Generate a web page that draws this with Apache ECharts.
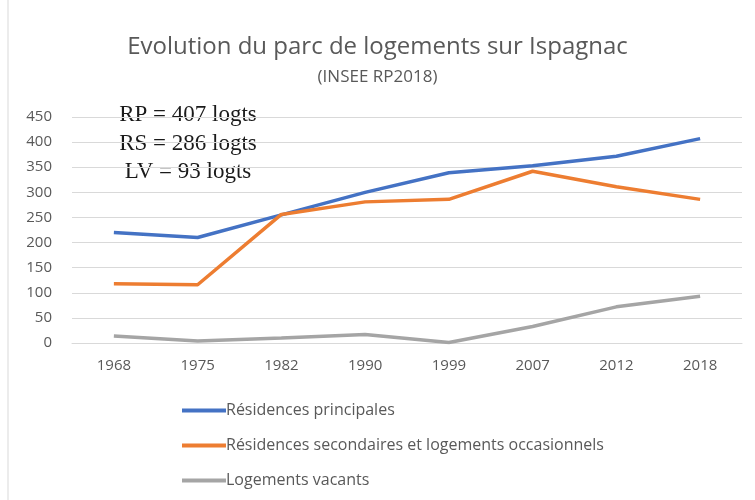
<!doctype html>
<html lang="fr">
<head>
    <meta charset="UTF-8">
    <title>Evolution du parc de logements sur Ispagnac</title>
    <script src="https://cdn.jsdelivr.net/npm/echarts@6/dist/echarts.min.js"></script>
    <style>
        html, body { margin: 0; padding: 0; background: #fff; }
    </style>
</head>
<body>
    <div id="main" style="width: 755px;height:500px;"></div>
    <script>
        var annees = ['1968', '1975', '1982', '1990', '1999', '2007', '2012', '2018'];
        var residencesPrincipales = [220, 210, 255, 300, 339, 353, 372, 407];
        var residencesSecondaires = [118, 116, 256, 281, 286, 342, 311, 286];
        var logementsVacants = [14, 4, 10, 17, 1, 33, 72, 93];
        var nomsSeries = ['Résidences principales', 'Résidences secondaires et logements occasionnels', 'Logements vacants'];
        var couleurs = ['#4472C4', '#ED7D31', '#A5A5A5'];
        var resume = ['RP = 407 logts', 'RS = 286 logts', 'LV = 93 logts'];

        var myChart = echarts.init(document.getElementById('main'));

        var serif = '"Liberation Serif", "DejaVu Serif", serif';
        var sans = '"Open Sans", "Noto Sans", sans-serif';

        function serie(nom, data, couleur) {
            return {
                name: nom,
                type: 'line',
                data: data,
                symbol: 'none',
                lineStyle: { width: 3.5, color: couleur },
                itemStyle: { color: couleur },
                silent: true
            };
        }

        function note(texte, y) {
            return {
                type: 'text', x: 188, y: y,
                style: { text: texte, font: '23px ' + serif, fill: '#1a1a1a', align: 'center', verticalAlign: 'middle' }
            };
        }

        myChart.setOption({
            backgroundColor: '#fff',
            animation: false,
            title: {
                text: 'Evolution du parc de logements sur Ispagnac',
                subtext: '(INSEE RP2018)',
                left: 'center',
                top: 30,
                itemGap: 10,
                textStyle: { color: '#595959', fontSize: 24, fontWeight: 'normal', fontFamily: sans },
                subtextStyle: { color: '#595959', fontSize: 17, fontFamily: sans }
            },
            legend: {
                orient: 'vertical',
                left: 177,
                top: 395,
                itemGap: 14,
                itemWidth: 44,
                itemHeight: 4,
                icon: 'rect',
                data: nomsSeries,
                textStyle: { color: '#595959', fontSize: 16, lineHeight: 21, fontFamily: sans, padding: [0, 0, 0, -5] }
            },
            grid: { left: 72, right: 13, top: 117, bottom: 157 },
            xAxis: {
                type: 'category',
                data: annees,
                axisLine: { lineStyle: { color: '#D9D9D9' } },
                axisTick: { show: false },
                axisLabel: { color: '#595959', fontSize: 15, fontFamily: sans, margin: 15 }
            },
            yAxis: {
                type: 'value',
                min: 0,
                max: 450,
                interval: 50,
                axisLine: { show: false },
                axisTick: { show: false },
                splitLine: { lineStyle: { color: '#D9D9D9', width: 1 } },
                axisLabel: { color: '#595959', fontSize: 15, fontFamily: sans, margin: 20 }
            },
            graphic: [
                { type: 'line', shape: { x1: 8, y1: 0, x2: 8, y2: 500 }, style: { stroke: '#D9D9D9', lineWidth: 1 } },
                note(resume[0], 115),
                note(resume[1], 144),
                note(resume[2], 172)
            ],
            series: [
                serie(nomsSeries[0], residencesPrincipales, couleurs[0]),
                serie(nomsSeries[1], residencesSecondaires, couleurs[1]),
                serie(nomsSeries[2], logementsVacants, couleurs[2])
            ]
        });
    </script>
</body>
</html>
